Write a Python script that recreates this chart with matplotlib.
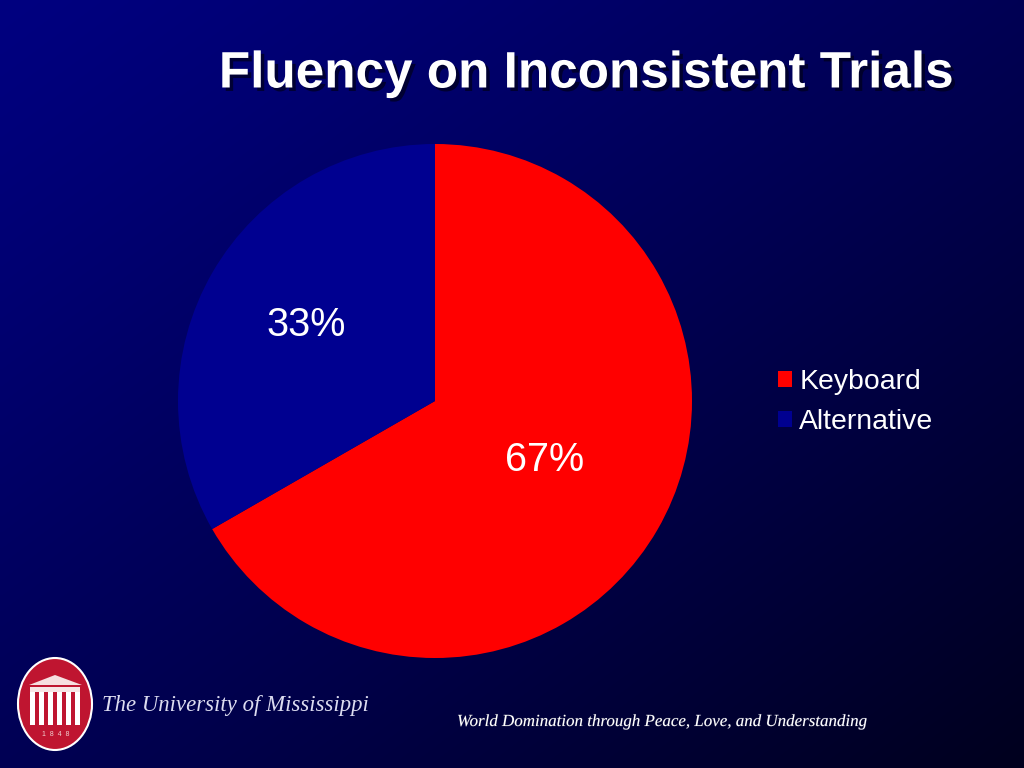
import numpy as np
import matplotlib
matplotlib.use("Agg")
import matplotlib.pyplot as plt
import matplotlib.patheffects as pe
from matplotlib.patches import Ellipse, Polygon, Rectangle

title = "Fluency on Inconsistent Trials"
categories = ["Keyboard", "Alternative"]
values = [66.7, 33.3]
colors = ["#ff0000", "#000090"]
W, H = 1024, 768

plt.rcParams["font.family"] = ["Liberation Sans", "DejaVu Sans"]
fig = plt.figure(figsize=(W / 100, H / 100), dpi=100)

# background gradient
bg = fig.add_axes([0, 0, 1, 1], zorder=0)
yy, xx = np.mgrid[0:1:200j, 0:1:200j]
t = (xx + yy) / 2
blue = 128 - 98 * t ** 1.15
img = np.zeros((200, 200, 3))
img[..., 2] = blue / 255
bg.imshow(img, extent=[0, W, H, 0], aspect="auto", interpolation="bilinear")
bg.set_xlim(0, W)
bg.set_ylim(H, 0)
bg.axis("off")

# pie
cx, cy, r = 435, 401, 257
ax = fig.add_axes([(cx - r) / W, (H - cy - r) / H, 2 * r / W, 2 * r / H], zorder=2)
wedges, _, autotexts = ax.pie(values, colors=colors, startangle=90, counterclock=False,
                              radius=1, autopct="%.0f%%", pctdistance=0.5,
                              textprops=dict(color="white", fontsize=28.5))
autotexts[0].set_position((0.428, -0.230))
autotexts[1].set_position((-0.502, 0.297))
ax.set_xlim(-1, 1)
ax.set_ylim(-1, 1)
ax.set_aspect("auto")

# legend
leg = fig.legend(wedges, categories, loc="center left",
                 bbox_to_anchor=(752 / W, 1 - 402 / H), frameon=False,
                 fontsize=20.4, handlelength=0.5, handleheight=0.5, handletextpad=0.27,
                 labelspacing=0.52, labelcolor="white")

# title with shadow
bg.text(586, 74, title, color="white", fontsize=36.9, fontweight="bold", ha="center", va="center",
        path_effects=[pe.withSimplePatchShadow(offset=(2.5, -2.5), shadow_rgbFace=(0, 0, 0.1), alpha=0.7)])

# logo
crimson = "#bf1530"
bg.add_patch(Ellipse((55, 704), 74, 92, fc=crimson, ec="white", lw=1.5))
bg.add_patch(Polygon([[29, 685], [55, 675], [82, 685]], closed=True, fc="#f6dfe0", ec="none"))
bg.add_patch(Rectangle((30, 687), 50, 5, fc="#f6e6e6", ec="none"))
for px in [30, 39.2, 48.3, 57.3, 66.2, 75]:
    bg.add_patch(Rectangle((px, 692), 5, 33, fc="white", ec="none"))
bg.text(56, 734, "1  8  4  8", color="#f0d0d0", fontsize=5, ha="center", va="center")
bg.text(102, 706, "The University of Mississippi", color="#dcdcf0", fontsize=16.4,
        family="Liberation Serif", style="italic", ha="left", va="center")

# motto
bg.text(662.5, 722, "World Domination through Peace, Love, and Understanding", color="white",
        fontsize=12.2, family="Liberation Serif", style="italic", ha="center", va="center",
        path_effects=[pe.withStroke(linewidth=0.6, foreground="#20204a")])

fig.savefig("out.png", dpi=100)
